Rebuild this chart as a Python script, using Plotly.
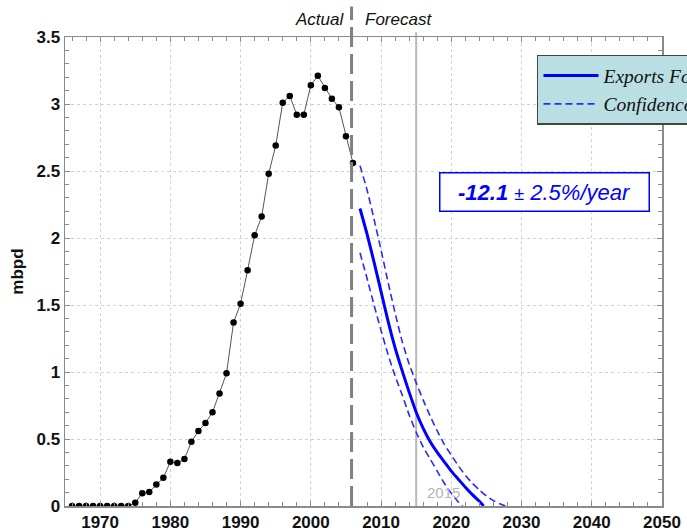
import plotly.graph_objects as go

# ---------------- data ----------------
actual_years = list(range(1966, 2007))
actual_mbpd = [0, 0, 0, 0, 0, 0, 0, 0, 0,
               0.025, 0.095, 0.105, 0.16, 0.21, 0.33, 0.32, 0.35, 0.48, 0.56,
               0.62, 0.70, 0.84, 0.99, 1.37, 1.51, 1.76, 2.02, 2.16, 2.48,
               2.69, 3.01, 3.06, 2.92, 2.92, 3.14, 3.21, 3.12, 3.04, 2.975,
               2.76, 2.56]

forecast_years = [2007, 2008, 2009, 2010, 2011, 2012, 2013, 2014, 2015, 2016,
                  2017, 2018, 2019, 2020, 2021, 2022, 2023, 2024, 2024.6]
forecast_mbpd = [2.22, 2.03, 1.82, 1.60, 1.38, 1.18, 1.01, 0.85, 0.70, 0.58,
                 0.48, 0.40, 0.33, 0.26, 0.20, 0.14, 0.085, 0.035, 0]

upper_years = [2007, 2008, 2009, 2010, 2011, 2012, 2013, 2014, 2015, 2016,
               2017, 2018, 2019, 2020, 2021, 2022, 2023, 2024, 2025, 2026,
               2027, 2027.7]
upper_mbpd = [2.54, 2.36, 2.14, 1.91, 1.67, 1.44, 1.23, 1.06, 0.92, 0.79,
              0.67, 0.56, 0.46, 0.38, 0.30, 0.23, 0.17, 0.12, 0.075, 0.04,
              0.015, 0]

lower_years = [2007, 2008, 2009, 2010, 2011, 2012, 2013, 2014, 2015, 2016,
               2017, 2018, 2019, 2020, 2021, 2021.6]
lower_mbpd = [1.89, 1.70, 1.50, 1.31, 1.13, 0.97, 0.83, 0.68, 0.55, 0.44,
              0.35, 0.26, 0.17, 0.095, 0.03, 0]

split_year = 2005.8
marker_year = 2015
x_ticks = [1970, 1980, 1990, 2000, 2010, 2020, 2030, 2040, 2050]
y_ticks = [0, 0.5, 1, 1.5, 2, 2.5, 3, 3.5]
y_ticklabels = ["0", "0.5", "1", "1.5", "2", "2.5", "3", "3.5"]
rate_label = "<b>-12.1</b> <span style='font-size:18px'>±</span> 2.5%/year"

BLUE = "#0000ff"

fig = go.Figure()

fig.add_trace(go.Scatter(
    x=actual_years, y=actual_mbpd, mode="lines+markers",
    line=dict(color="#555555", width=1),
    marker=dict(color="black", size=6.5),
    showlegend=False, hoverinfo="skip"))

fig.add_trace(go.Scatter(
    x=forecast_years, y=forecast_mbpd, mode="lines",
    line=dict(color=BLUE, width=3, shape="spline", smoothing=0.6),
    name="<i>Exports Forecast</i>", legendrank=1))

fig.add_trace(go.Scatter(
    x=upper_years, y=upper_mbpd, mode="lines",
    line=dict(color="#2a2aff", width=1.6, dash="7px,4px",
              shape="spline", smoothing=0.6),
    name="<i>Confidence Interval</i>", legendrank=2))

fig.add_trace(go.Scatter(
    x=lower_years, y=lower_mbpd, mode="lines",
    line=dict(color="#2a2aff", width=1.6, dash="7px,4px",
              shape="spline", smoothing=0.6),
    showlegend=False))

# reference lines
fig.add_shape(type="line", xref="x", yref="paper",
              x0=marker_year, x1=marker_year, y0=0, y1=1.01,
              line=dict(color="#b8b8b8", width=2), layer="below")
fig.add_shape(type="line", xref="x", yref="paper",
              x0=split_year, x1=split_year, y0=0, y1=1.065,
              line=dict(color="#808080", width=3, dash="20px,7px"))

# annotations
fig.add_annotation(x=marker_year + 3.9, y=0.1, xref="x", yref="y",
                   text=str(marker_year), showarrow=False,
                   font=dict(family="Liberation Sans, Arial", size=15, color="#b4b4b4"))
fig.add_annotation(x=0.4707, y=1.038, xref="paper", yref="paper",
                   xanchor="right", yanchor="middle",
                   text="<i>Actual</i>", showarrow=False,
                   font=dict(family="Liberation Sans, Arial", size=17, color="#111111"))
fig.add_annotation(x=0.4992, y=1.038, xref="paper", yref="paper",
                   xanchor="left", yanchor="middle",
                   text="<i>Forecast</i>", showarrow=False,
                   font=dict(family="Liberation Sans, Arial", size=17, color="#111111"))
fig.add_annotation(x=2033.2, y=2.34, xref="x", yref="y",
                   text="<i>" + rate_label + "</i>", showarrow=False,
                   font=dict(family="Liberation Sans, Arial", size=22, color=BLUE),
                   bgcolor="white", bordercolor=BLUE, borderwidth=1.5,
                   borderpad=4, width=200, height=29)

tickfont = dict(family="Liberation Sans, Arial", size=17, color="#111111")
axis_common = dict(
    showline=True, linecolor="#8a8a8a", linewidth=1.5, mirror="allticks",
    ticks="inside", ticklen=5, tickcolor="#8a8a8a", tickwidth=1,
    showgrid=True, gridcolor="#d2d2d2", gridwidth=1, griddash="dot",
    zeroline=False, tickfont=tickfont,
)

fig.update_xaxes(
    range=[1965, 2050], tickvals=x_ticks,
    ticktext=["<b>%d</b>" % v for v in x_ticks],
    minor=dict(dtick=2, tick0=1970, ticks="inside", ticklen=4,
               tickcolor="#8a8a8a", showgrid=False),
    **axis_common)
fig.update_yaxes(
    range=[0, 3.5], tickvals=y_ticks,
    ticktext=["<b>%s</b>" % t for t in y_ticklabels],
    minor=dict(dtick=0.1, tick0=0, ticks="inside", ticklen=4,
               tickcolor="#8a8a8a", showgrid=False),
    title=dict(text="<b>mbpd</b>", standoff=8,
               font=dict(family="Liberation Sans, Arial", size=17, color="#111111")),
    **axis_common)

fig.update_layout(
    width=687, height=531,
    margin=dict(l=65, r=25, t=37, b=25, autoexpand=False),
    paper_bgcolor="white", plot_bgcolor="white",
    showlegend=True,
    legend=dict(x=0.7906, y=0.962, xanchor="left", yanchor="top",
                bgcolor="#b9dfe2", bordercolor="#444444", borderwidth=1.5,
                font=dict(family="Liberation Serif, Times New Roman", size=19.5,
                          color="#111111"),
                itemwidth=55, tracegroupgap=0),
)

fig.write_html("out.html",
               config={"displayModeBar": False, "staticPlot": True},
               post_script="document.body.style.margin='0';"
                           "document.body.style.overflow='hidden';")
